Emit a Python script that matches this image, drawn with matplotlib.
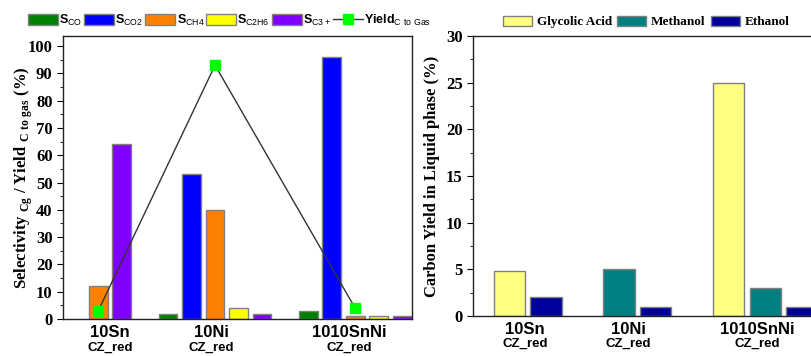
import matplotlib
matplotlib.use('agg')
import matplotlib.pyplot as plt
import numpy as np

plt.rcParams['mathtext.fontset'] = 'custom'
plt.rcParams['mathtext.rm'] = 'Liberation Serif:bold'
plt.rcParams['mathtext.sf'] = 'Liberation Sans'
plt.rcParams['mathtext.bf'] = 'Liberation Sans:bold'

# ---- data ----
groups = ['10Sn', '10Ni', '1010SnNi']
sub_label = 'CZ_red'

gas_series = ['S$_\\mathsf{CO}$', 'S$_\\mathsf{CO2}$', 'S$_\\mathsf{CH4}$',
              'S$_\\mathsf{C2H6}$', 'S$_\\mathsf{C3+}$']
s_co = [None, 2, 3]
s_co2 = [None, 53, 96]
s_ch4 = [12, 40, 1]
s_c2h6 = [None, 4, 1]
s_c3 = [64, 2, 1]
yield_gas = [3, 93, 4]

liq_series = ['Glycolic Acid', 'Methanol', 'Ethanol']
glycolic = [4.8, None, 25]
methanol = [None, 5, 3]
ethanol = [2, 1, 1]

gas_colors = ['#008000', '#0000ff', '#ff8000', '#ffff00', '#8000ff']
liq_colors = ['#ffff80', '#008080', '#00009c']

fig = plt.figure(figsize=(8.12, 3.56), dpi=100)
W, H = 812.0, 356.0


def grouped(ax, centers, series, labels, colors, width):
    n_groups = len(centers)
    slots = {}
    for g in range(n_groups):
        present = [k for k in range(len(series)) if series[k][g] is not None]
        offs = np.arange(len(present)) - (len(present) - 1) / 2.0
        for k, o in zip(present, offs):
            slots[(k, g)] = centers[g] + o
    bars = []
    for k in range(len(series)):
        xs = [slots[(k, g)] for g in range(n_groups) if (k, g) in slots]
        hs = [series[k][g] for g in range(n_groups) if (k, g) in slots]
        b = ax.bar(xs, hs, width=width, color=colors[k], edgecolor='#808080',
                   linewidth=1, label=labels[k], zorder=2)
        bars.append(b)
    return slots, bars


def style(ax, label_pos, label_y):
    for s in ax.spines.values():
        s.set_linewidth(1)
        s.set_color('#222222')
    ax.set_xticks(label_pos)
    ax.set_xticklabels(groups, fontfamily='Liberation Sans', fontweight='bold',
                       fontsize=12)
    ax.tick_params(axis='x', length=0, pad=4.5)
    ax.tick_params(axis='y', which='both', direction='out', labelsize=12)
    ax.tick_params(axis='y', which='major', length=4)
    ax.tick_params(axis='y', which='minor', length=2)
    for t in ax.get_yticklabels():
        t.set_fontfamily('Liberation Serif')
        t.set_fontweight('bold')
    for x in label_pos:
        ax.text(x, label_y, sub_label, transform=ax.get_xaxis_transform(),
                ha='center', va='center', fontfamily='Liberation Sans',
                fontweight='bold', fontsize=9.5, clip_on=False)


# ---- left: gas phase ----
ax1 = fig.add_axes([63 / W, (H - 319) / H, 349 / W, 283 / H])
gas_centers = [2.0, 6.47, 12.43]
slots, bars1 = grouped(ax1, gas_centers, [s_co, s_co2, s_ch4, s_c2h6, s_c3],
                       gas_series, gas_colors, 0.8)
line_x = [slots[(2, 0)], gas_centers[1], gas_centers[2]]
yl, = ax1.plot(line_x, yield_gas, color='#333333', lw=1, marker='s', ms=7,
               mfc='#00ff00', mec='#00ff00', zorder=3)
ax1.set_xlim(0, 14.85)
ax1.set_ylim(0, 103.7)
ax1.set_yticks(np.arange(0, 101, 10))
ax1.set_yticks(np.arange(0, 101, 5), minor=True)
style(ax1, [2.0, 6.3, 12.17], -0.1)
ax1.set_ylabel('Selectivity $_{\\mathrm{Cg}}$ / Yield $_{\\mathrm{C\\ to\\ gas}}$ (%)',
               fontfamily='Liberation Serif', fontweight='bold', fontsize=12,
               labelpad=-5)
fig.legend(bars1 + [yl], gas_series + ['Yield$_\\mathsf{C\\ to\\ Gas}$'],
           loc='center left',
           bbox_to_anchor=(28 / W, 1 - 20 / H), ncol=6, frameon=False,
           prop={'family': 'Liberation Sans', 'weight': 'bold', 'size': 9},
           borderpad=0, borderaxespad=0, handlelength=2.4, handleheight=0.95,
           handletextpad=0.1, columnspacing=0.15)

# ---- right: liquid phase ----
ax2 = fig.add_axes([473 / W, (H - 316) / H, 357 / W, 280 / H])
_, bars2 = grouped(ax2, [1.5, 4.5, 8.0], [glycolic, methanol, ethanol],
                   liq_series, liq_colors, 0.85)
ax2.set_xlim(0, 9.78)
ax2.set_ylim(0, 30)
ax2.set_yticks(np.arange(0, 31, 5))
ax2.set_yticks(np.arange(0, 31, 2.5), minor=True)
style(ax2, [1.42, 4.25, 7.8], -0.1)
ax2.set_ylabel('Carbon Yield in Liquid phase (%)', fontfamily='Liberation Serif',
               fontweight='bold', fontsize=12, labelpad=4)
fig.legend(bars2, liq_series, loc='center left',
           bbox_to_anchor=(503 / W, 1 - 22 / H), ncol=3, frameon=False,
           prop={'family': 'Liberation Serif', 'weight': 'bold', 'size': 9.5},
           borderpad=0, borderaxespad=0, handlelength=2.2, handleheight=0.85,
           handletextpad=0.35, columnspacing=0.4)

fig.savefig('out.png', dpi=100)
